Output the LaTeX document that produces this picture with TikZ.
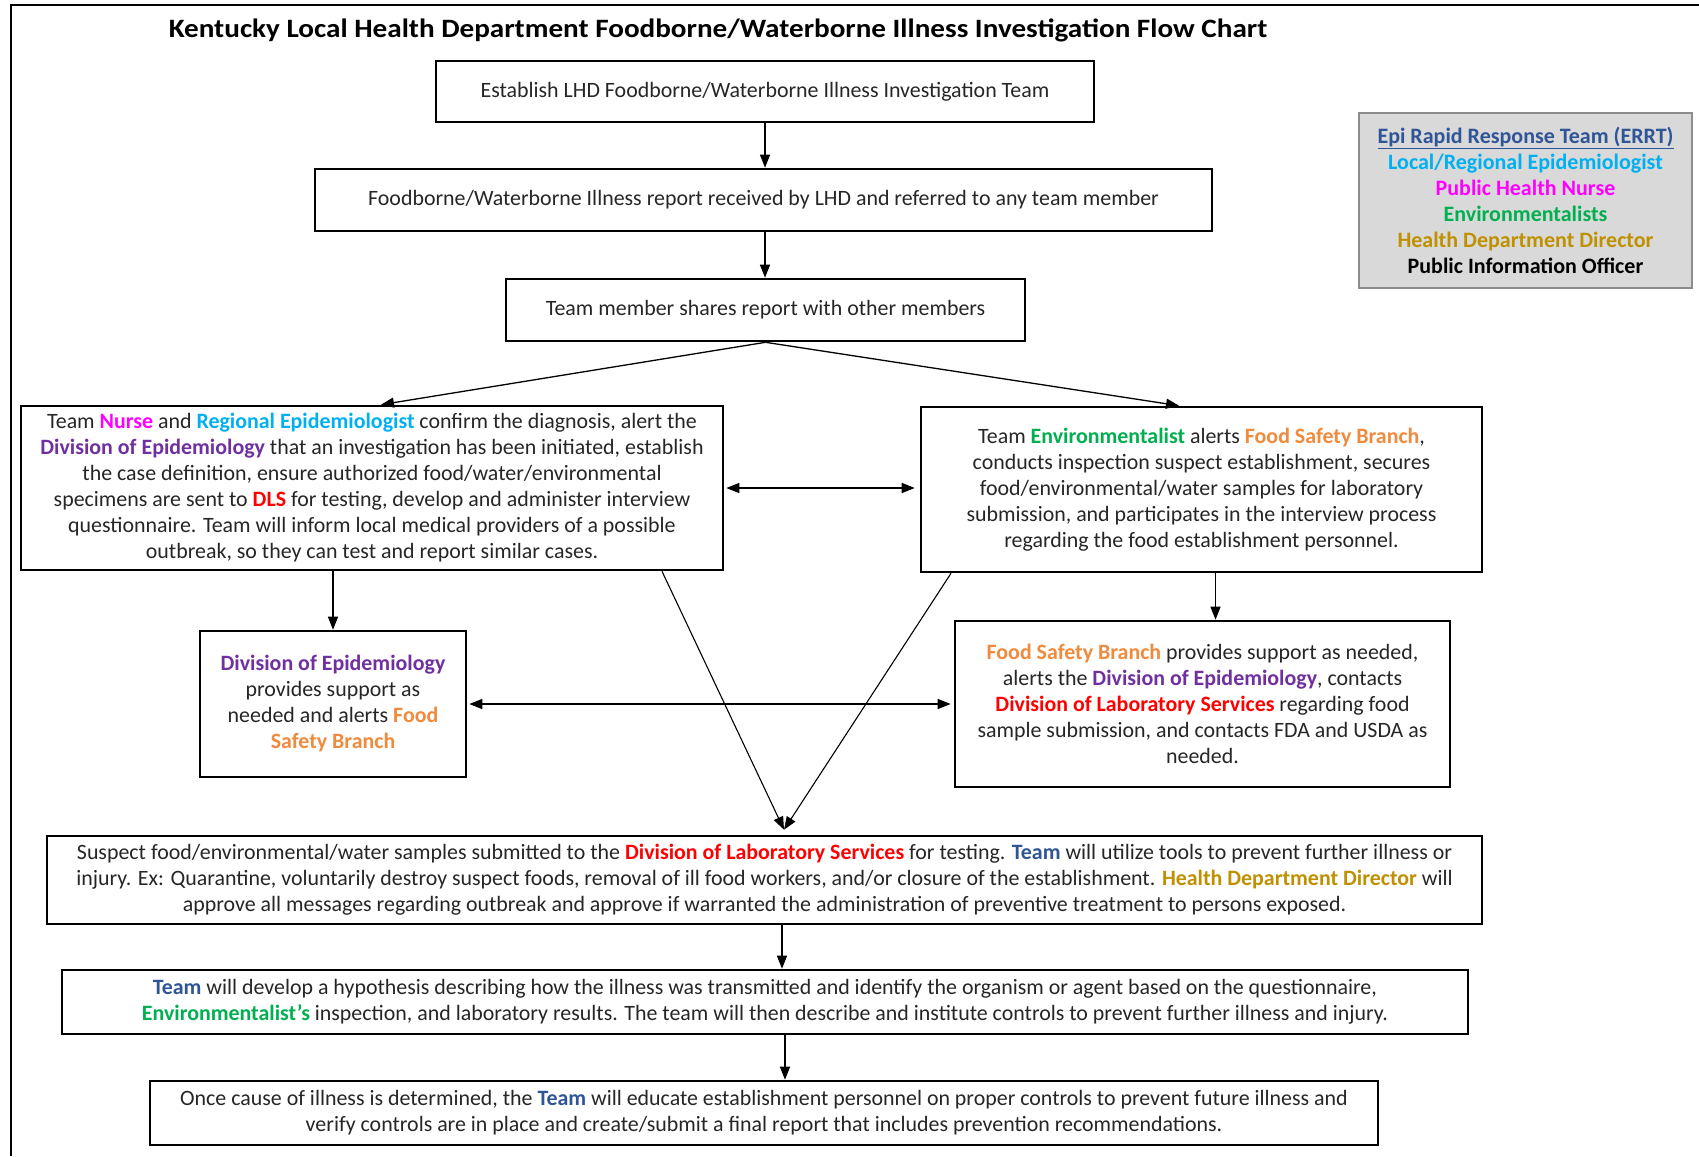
\documentclass[tikz,border=0pt]{standalone}
\usepackage{fontspec}
\setmainfont{Carlito}
\usetikzlibrary{arrows.meta}
\definecolor{cnurse}{HTML}{FF00FF}
\definecolor{cepi}{HTML}{00B0F0}
\definecolor{cdiv}{HTML}{7030A0}
\definecolor{cred}{HTML}{FF0000}
\definecolor{cenv}{HTML}{00B050}
\definecolor{cfsb}{HTML}{F08A3C}
\definecolor{cteam}{HTML}{2F5597}
\definecolor{cdir}{HTML}{BF9000}
\definecolor{legfill}{HTML}{D9D9D9}
\definecolor{legdraw}{HTML}{8C8C8C}
\newcommand\kwNurse[1]{\textcolor{cnurse}{\textbf{#1}}}
\newcommand\kwEpi[1]{\textcolor{cepi}{\textbf{#1}}}
\newcommand\kwDiv[1]{\textcolor{cdiv}{\textbf{#1}}}
\newcommand\kwRed[1]{\textcolor{cred}{\textbf{#1}}}
\newcommand\kwEnv[1]{\textcolor{cenv}{\textbf{#1}}}
\newcommand\kwFsb[1]{\textcolor{cfsb}{\textbf{#1}}}
\newcommand\kwTeam[1]{\textcolor{cteam}{\textbf{#1}}}
\newcommand\kwDir[1]{\textcolor{cdir}{\textbf{#1}}}
\begin{document}
\begin{tikzpicture}[x=1pt,y=-1pt,
  flowbox/.style={draw=black,line width=2.6pt,align=center,inner sep=0pt,
    font=\fontsize{21.9}{26}\selectfont,text=black!85},
  arr/.style={line width=1.3pt,-{Triangle[length=13pt,width=10pt]}},
  darr/.style={line width=1.3pt,{Triangle[length=13pt,width=10pt]}-{Triangle[length=13pt,width=10pt]}},
  thinl/.style={line width=1.1pt,-{Triangle[length=13pt,width=10pt]}}]
\useasboundingbox (0,0) rectangle (1699,1156);
\fill[white] (0,0) rectangle (1699,1156);
% outer frame
\draw[line width=2pt] (11,1156) -- (11,5) -- (1699,5);
% title
\node[font=\bfseries\fontsize{26.5}{30}\selectfont,inner sep=0pt] (title) at (718,30) {\scalebox{1.1}[1]{Kentucky Local Health Department Foodborne/Waterborne Illness Investigation Flow Chart}};
% boxes
\node[flowbox,minimum width=658pt,minimum height=61pt] (B1) at (765,91.5) {Establish LHD Foodborne/Waterborne Illness Investigation Team};
\node[flowbox,minimum width=897pt,minimum height=62pt] (B2) at (763.5,200) {Foodborne/Waterborne Illness report received by LHD and referred to any team member};
\node[flowbox,minimum width=519pt,minimum height=62pt] (B3) at (765.5,310) {Team member shares report with other members};
\node[flowbox,minimum width=702pt,minimum height=164pt] (L) at (372,488) {Team \kwNurse{Nurse} and \kwEpi{Regional Epidemiologist} confirm the diagnosis, alert the\\
\kwDiv{Division of Epidemiology} that an investigation has been initiated, establish\\
the case definition, ensure authorized food/water/environmental\\
specimens are sent to \kwRed{DLS} for testing, develop and administer interview\\
questionnaire. Team will inform local medical providers of a possible\\
outbreak, so they can test and report similar cases.};
\node[flowbox,minimum width=561pt,minimum height=165pt] (R) at (1201.5,489.5) {Team \kwEnv{Environmentalist} alerts \kwFsb{Food Safety Branch},\\
conducts inspection suspect establishment, secures\\
food/environmental/water samples for laboratory\\
submission, and participates in the interview process\\
regarding the food establishment personnel.};
\node[flowbox,minimum width=266pt,minimum height=146pt] (D) at (333,704) {\kwDiv{Division of Epidemiology}\\
provides support as\\
needed and alerts \kwFsb{Food}\\
\kwFsb{Safety Branch}};
\node[flowbox,minimum width=495pt,minimum height=166pt] (F) at (1202.5,704) {\kwFsb{Food Safety Branch} provides support as needed,\\
alerts the \kwDiv{Division of Epidemiology}, contacts\\
\kwRed{Division of Laboratory Services} regarding food\\
sample submission, and contacts FDA and USDA as\\
needed.};
\node[flowbox,minimum width=1435pt,minimum height=88pt] (S) at (764.5,880) {Suspect food/environmental/water samples submitted to the \kwRed{Division of Laboratory Services} for testing. \kwTeam{Team} will utilize tools to prevent further illness or\\
injury. Ex: Quarantine, voluntarily destroy suspect foods, removal of ill food workers, and/or closure of the establishment. \kwDir{Health Department Director} will\\
approve all messages regarding outbreak and approve if warranted the administration of preventive treatment to persons exposed.};
\node[flowbox,minimum width=1406pt,minimum height=64pt] (H) at (765,1002) {\kwTeam{Team} will develop a hypothesis describing how the illness was transmitted and identify the organism or agent based on the questionnaire,\\
\kwEnv{Environmentalist's} inspection, and laboratory results. The team will then describe and institute controls to prevent further illness and injury.};
\node[flowbox,minimum width=1228pt,minimum height=64pt] (O) at (764,1113) {Once cause of illness is determined, the \kwTeam{Team} will educate establishment personnel on proper controls to prevent future illness and\\
verify controls are in place and create/submit a final report that includes prevention recommendations.};
% legend
\node[draw=legdraw,fill=legfill,line width=1.5pt,minimum width=333pt,minimum height=175pt,align=center,inner sep=0pt,
  font=\bfseries\fontsize{22}{26}\selectfont] (leg) at (1525.5,200.5) {\textcolor{cteam}{\underline{Epi Rapid Response Team (ERRT)}}\\
\textcolor{cepi}{Local/Regional Epidemiologist}\\
\textcolor{cnurse}{Public Health Nurse}\\
\textcolor{cenv}{Environmentalists}\\
\textcolor{cdir}{Health Department Director}\\
Public Information Officer};
% connector anchors
\coordinate (meet) at ([xshift=19.5pt,yshift=5pt]S.north);
\coordinate (sS) at ([xshift=17.5pt]S.south);
\coordinate (sH) at ([xshift=20pt]H.south);
% connectors
\draw[arr] (B1.south) -- (B1.south |- B2.north);
\draw[arr] (B2.south -| B1.south) -- (B1.south |- B3.north);
\draw[arr] (B3.south) -- ([xshift=9pt]L.north);
\draw[arr] (B3.south) -- ([xshift=-22.5pt]R.north);
\draw[darr,shorten <=2pt,shorten >=5pt] (L.east) -- (L.east -| R.west);
\draw[arr] (D.north |- L.south) -- (D.north);
\draw[arr] ([xshift=13pt]F.north |- R.south) -- ([xshift=13pt]F.north);
\draw[darr,shorten <=2pt,shorten >=3pt] (D.east) -- (D.east -| F.west);
\draw[thinl] ([xshift=290pt]L.south) -- (meet);
\draw[thinl] ([xshift=-250.5pt]R.south) -- (meet);
\draw[arr] (sS) -- (sS |- H.north);
\draw[arr] (sH) -- (sH |- O.north);
\end{tikzpicture}
\end{document}
